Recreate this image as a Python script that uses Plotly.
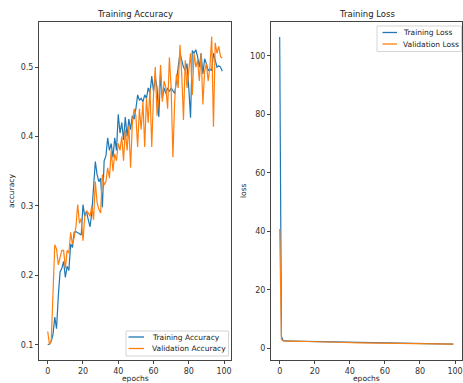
import plotly.graph_objects as go

epochs = list(range(100))

train_acc = [
    0.100, 0.101, 0.105, 0.115, 0.140, 0.123, 0.170, 0.205, 0.210, 0.220,
    0.197, 0.213, 0.207, 0.245, 0.240, 0.262, 0.263, 0.262, 0.260, 0.258,
    0.302, 0.285, 0.292, 0.280, 0.270, 0.290, 0.330, 0.364, 0.345, 0.335,
    0.340, 0.298, 0.365, 0.372, 0.398, 0.380, 0.390, 0.370, 0.398, 0.380,
    0.432, 0.405, 0.420, 0.395, 0.428, 0.400, 0.425, 0.410, 0.430, 0.425,
    0.440, 0.460, 0.452, 0.455, 0.450, 0.460, 0.455, 0.470, 0.462, 0.487,
    0.465, 0.485, 0.470, 0.428, 0.490, 0.455, 0.470, 0.462, 0.470, 0.465,
    0.470, 0.466, 0.462, 0.480, 0.500, 0.520, 0.510, 0.500, 0.495, 0.505,
    0.470, 0.427, 0.524, 0.520, 0.525, 0.515, 0.500, 0.520, 0.490, 0.512,
    0.505, 0.495, 0.497, 0.495, 0.520, 0.510, 0.500, 0.502, 0.500, 0.494,
]

val_acc = [
    0.119, 0.100, 0.106, 0.170, 0.244, 0.238, 0.215, 0.226, 0.236, 0.236,
    0.210, 0.236, 0.232, 0.262, 0.245, 0.255, 0.270, 0.302, 0.275, 0.282,
    0.250, 0.285, 0.293, 0.290, 0.285, 0.300, 0.280, 0.335, 0.305, 0.295,
    0.290, 0.345, 0.330, 0.335, 0.355, 0.340, 0.380, 0.350, 0.375, 0.365,
    0.390, 0.380, 0.400, 0.365, 0.410, 0.380, 0.415, 0.355, 0.420, 0.440,
    0.430, 0.385, 0.440, 0.410, 0.450, 0.385, 0.455, 0.420, 0.470, 0.385,
    0.460, 0.500, 0.430, 0.455, 0.503, 0.450, 0.480, 0.470, 0.440, 0.514,
    0.470, 0.370, 0.450, 0.490, 0.470, 0.532, 0.490, 0.424, 0.510, 0.470,
    0.500, 0.520, 0.460, 0.520, 0.500, 0.510, 0.480, 0.520, 0.446, 0.495,
    0.505, 0.480, 0.500, 0.544, 0.414, 0.535, 0.520, 0.530, 0.515, 0.513,
]

train_loss = [
    106.5, 4.0, 2.60, 2.52, 2.50, 2.48, 2.47, 2.45, 2.44, 2.43,
    2.42, 2.40, 2.39, 2.38, 2.36, 2.35, 2.33, 2.32, 2.30, 2.29,
    2.27, 2.26, 2.24, 2.22, 2.21, 2.19, 2.18, 2.16, 2.14, 2.13,
    2.11, 2.10, 2.08, 2.06, 2.05, 2.03, 2.01, 2.00, 1.98, 1.97,
    1.95, 1.93, 1.92, 1.90, 1.89, 1.87, 1.86, 1.84, 1.83, 1.81,
    1.80, 1.78, 1.77, 1.76, 1.74, 1.73, 1.72, 1.70, 1.69, 1.68,
    1.67, 1.66, 1.65, 1.64, 1.63, 1.62, 1.61, 1.60, 1.59, 1.58,
    1.57, 1.56, 1.55, 1.55, 1.54, 1.53, 1.52, 1.52, 1.51, 1.50,
    1.50, 1.49, 1.48, 1.48, 1.47, 1.47, 1.46, 1.46, 1.45, 1.45,
    1.44, 1.44, 1.43, 1.43, 1.43, 1.42, 1.42, 1.42, 1.41, 1.41,
]

val_loss = [
    40.8, 3.0, 2.55, 2.50, 2.49, 2.46, 2.47, 2.44, 2.42, 2.43,
    2.40, 2.41, 2.38, 2.36, 2.37, 2.34, 2.33, 2.31, 2.30, 2.30,
    2.27, 2.25, 2.25, 2.22, 2.20, 2.20, 2.17, 2.16, 2.15, 2.12,
    2.12, 2.09, 2.08, 2.07, 2.04, 2.03, 2.02, 1.99, 1.99, 1.96,
    1.96, 1.93, 1.91, 1.91, 1.88, 1.88, 1.85, 1.84, 1.83, 1.80,
    1.80, 1.79, 1.76, 1.76, 1.75, 1.72, 1.72, 1.71, 1.68, 1.68,
    1.67, 1.65, 1.65, 1.64, 1.62, 1.62, 1.61, 1.59, 1.59, 1.58,
    1.57, 1.56, 1.56, 1.54, 1.54, 1.53, 1.53, 1.51, 1.51, 1.50,
    1.50, 1.49, 1.49, 1.48, 1.47, 1.47, 1.46, 1.46, 1.45, 1.45,
    1.44, 1.44, 1.44, 1.43, 1.43, 1.42, 1.42, 1.42, 1.41, 1.41,
]

acc_ticks = [0.1, 0.2, 0.3, 0.4, 0.5]
loss_ticks = [0, 20, 40, 60, 80, 100]
epoch_ticks = [0, 20, 40, 60, 80, 100]

BLUE = "#1f77b4"
ORANGE = "#ff7f0e"
FONT = "DejaVu Sans"
W, H = 463, 383

fig = go.Figure()
fig.add_trace(go.Scatter(x=epochs, y=train_acc, mode="lines", name="Training Accuracy",
                         line=dict(color=BLUE, width=1.2), xaxis="x", yaxis="y"))
fig.add_trace(go.Scatter(x=epochs, y=val_acc, mode="lines", name="Validation Accuracy",
                         line=dict(color=ORANGE, width=1.2), xaxis="x", yaxis="y"))
fig.add_trace(go.Scatter(x=epochs, y=train_loss, mode="lines", name="Training Loss",
                         line=dict(color=BLUE, width=1.2), xaxis="x2", yaxis="y2"))
fig.add_trace(go.Scatter(x=epochs, y=val_loss, mode="lines", name="Validation Loss",
                         line=dict(color=ORANGE, width=1.2), xaxis="x2", yaxis="y2"))

ydom = [1 - 360 / H, 1 - 22 / H]
ax_common = dict(showline=True, linecolor="#444", linewidth=1, mirror=True, showgrid=False,
                 zeroline=False, ticks="outside", ticklen=3, tickcolor="#444",
                 tickfont=dict(family=FONT, size=8, color="#333"))

fig.update_layout(
    width=W, height=H,
    margin=dict(l=0, r=0, t=0, b=0),
    paper_bgcolor="white", plot_bgcolor="white",
    font=dict(family=FONT, color="#333"),
    showlegend=False,
    xaxis=dict(domain=[39 / W, 231 / W], range=[-4.95, 103.95], tickvals=epoch_ticks,
               anchor="y", **ax_common),
    yaxis=dict(domain=ydom, range=[0.078, 0.565], tickvals=acc_ticks, anchor="x", **ax_common),
    xaxis2=dict(domain=[271 / W, 462 / W], range=[-4.95, 103.95], tickvals=epoch_ticks,
                anchor="y2", **ax_common),
    yaxis2=dict(domain=ydom, range=[-4.0, 111.6], tickvals=loss_ticks, anchor="x2", **ax_common),
)

def px(xp):
    return xp / W

def py(yp):
    return 1 - yp / H

annots = [
    dict(text="Training Accuracy", x=135, y=14, size=8.5, angle=0),
    dict(text="Training Loss", x=366.5, y=14, size=8.5, angle=0),
    dict(text="epochs", x=135, y=378, size=7.5, angle=0),
    dict(text="epochs", x=366.5, y=378, size=7.5, angle=0),
    dict(text="accuracy", x=12, y=191, size=7.5, angle=-90),
    dict(text="loss", x=244, y=191, size=7.5, angle=-90),
]
for a in annots:
    fig.add_annotation(text=a["text"], x=px(a["x"]), y=py(a["y"]), xref="paper", yref="paper",
                       xanchor="center", yanchor="middle", showarrow=False, textangle=a["angle"],
                       font=dict(family=FONT, size=a["size"], color="#222"))

# manual legends (matplotlib style, compact)
legends = [
    dict(box=(126, 331, 228.5, 356), line_x=(128.5, 144), text_x=150,
         items=[(fig.data[0].name, BLUE, 337), (fig.data[1].name, ORANGE, 348.5)]),
    dict(box=(377, 26, 461.5, 51.5), line_x=(382.5, 397), text_x=400.5,
         items=[(fig.data[2].name, BLUE, 32.5), (fig.data[3].name, ORANGE, 44)]),
]
for lg in legends:
    x0, y0, x1, y1 = lg["box"]
    fig.add_shape(type="rect", xref="paper", yref="paper", x0=px(x0), x1=px(x1),
                  y0=py(y1), y1=py(y0), line=dict(color="#d5d5d5", width=1),
                  fillcolor="rgba(255,255,255,0.85)", layer="above")
    for name, color, yy in lg["items"]:
        fig.add_shape(type="line", xref="paper", yref="paper", x0=px(lg["line_x"][0]),
                      x1=px(lg["line_x"][1]), y0=py(yy), y1=py(yy),
                      line=dict(color=color, width=1.3), layer="above")
        fig.add_annotation(text=name, x=px(lg["text_x"]), y=py(yy), xref="paper", yref="paper",
                           xanchor="left", yanchor="middle", showarrow=False,
                           font=dict(family=FONT, size=7.5, color="#222"))

fig.write_html("out.html")
